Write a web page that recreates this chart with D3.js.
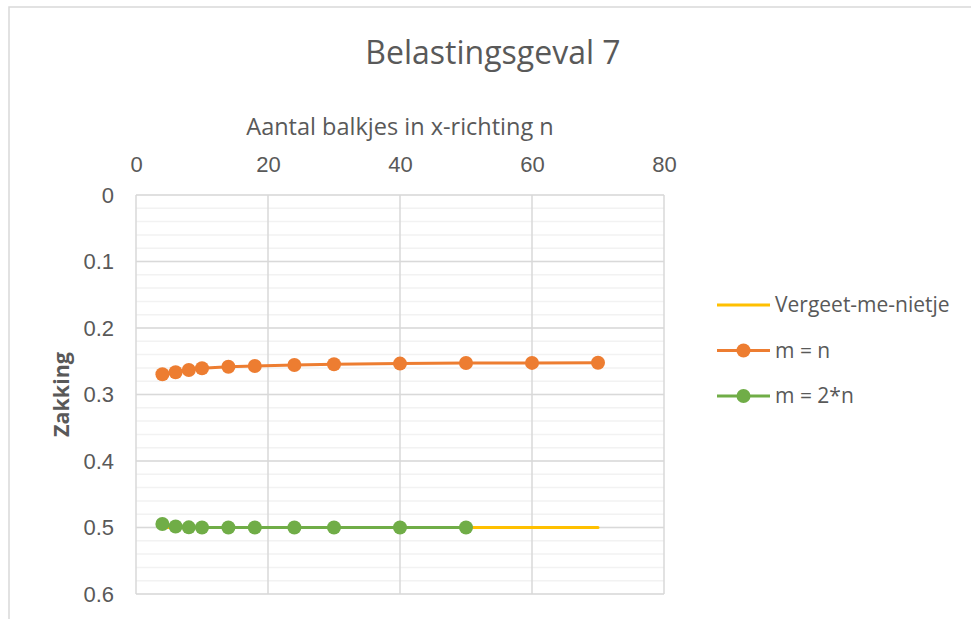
<!DOCTYPE html>
<html>
<head>
<meta charset="utf-8">
<script src="https://cdn.jsdelivr.net/npm/d3@7"></script>
<style>
  html, body { margin: 0; padding: 0; background: #fff; }
  svg { display: block; font-family: "Open Sans", "Noto Sans", "Liberation Sans", sans-serif; }
</style>
</head>
<body>
<svg id="chart" width="971" height="619"></svg>
<script>
// Number of beams in x-direction (n)
const nValues = [4, 6, 8, 10, 14, 18, 24, 30, 40, 50, 60, 70];
const nValuesDouble = [4, 6, 8, 10, 14, 18, 24, 30, 40, 50];

// Deflection per series
const vergeetMeNietje = [0.5, 0.5, 0.5, 0.5, 0.5, 0.5, 0.5, 0.5, 0.5, 0.5, 0.5, 0.5];
const mIsN = [0.2696, 0.2666, 0.2632, 0.2606, 0.2582, 0.2571, 0.2556, 0.2546, 0.2535, 0.2527, 0.2525, 0.2523];
const mIs2N = [0.4947, 0.4985, 0.4998, 0.5, 0.5, 0.5, 0.5, 0.5, 0.5, 0.5];

const xTicks = [0, 20, 40, 60, 80];
const yTicks = [0, 0.1, 0.2, 0.3, 0.4, 0.5, 0.6];
const yMinorTicks = d3.range(0, 0.6001, 0.02);

const series = [
  { name: "Vergeet-me-nietje", color: "#FFC000", xs: nValues, ys: vergeetMeNietje, markers: false },
  { name: "m = n", color: "#ED7D31", xs: nValues, ys: mIsN, markers: true },
  { name: "m = 2*n", color: "#70AD47", xs: nValuesDouble, ys: mIs2N, markers: true }
];

const svg = d3.select("#chart");
const W = 971, H = 619;
const plot = { left: 136, right: 664, top: 195, bottom: 594 };
const textColor = "#595959";
const gridMajor = "#d9d9d9";
const gridMinor = "#f2f2f2";

// Chart frame
svg.append("path")
  .attr("d", `M9,${H} V7 H${W}`)
  .attr("fill", "none")
  .attr("stroke", gridMajor)
  .attr("stroke-width", 1.5);

const x = d3.scaleLinear().domain([0, 80]).range([plot.left, plot.right]);
const y = d3.scaleLinear().domain([0, 0.6]).range([plot.top, plot.bottom]);

// Minor horizontal gridlines
svg.append("g")
  .selectAll("line")
  .data(yMinorTicks)
  .join("line")
  .attr("x1", plot.left).attr("x2", plot.right)
  .attr("y1", d => y(d)).attr("y2", d => y(d))
  .attr("stroke", gridMinor)
  .attr("stroke-width", 1.5);

// Major gridlines
svg.append("g")
  .selectAll("line")
  .data(yTicks)
  .join("line")
  .attr("x1", plot.left).attr("x2", plot.right)
  .attr("y1", d => y(d)).attr("y2", d => y(d))
  .attr("stroke", gridMajor)
  .attr("stroke-width", 1.5);

svg.append("g")
  .selectAll("line")
  .data(xTicks)
  .join("line")
  .attr("x1", d => x(d)).attr("x2", d => x(d))
  .attr("y1", plot.top).attr("y2", plot.bottom)
  .attr("stroke", gridMajor)
  .attr("stroke-width", 1.5);

// Top x axis
const xAxis = svg.append("g")
  .attr("transform", `translate(0,${plot.top - 20})`)
  .call(d3.axisTop(x).tickValues(xTicks).tickSize(0).tickFormat(d3.format("d")));
xAxis.select(".domain").remove();
xAxis.selectAll("text")
  .attr("fill", textColor)
  .attr("font-size", 22)
  .attr("font-family", null);

// Left y axis (inverted)
const yAxis = svg.append("g")
  .attr("transform", `translate(${plot.left - 19},0)`)
  .call(d3.axisLeft(y).tickValues(yTicks).tickSize(0).tickFormat(d => d === 0 ? "0" : d3.format(".1f")(d)));
yAxis.select(".domain").remove();
yAxis.selectAll("text")
  .attr("fill", textColor)
  .attr("font-size", 22)
  .attr("font-family", null);

// Series lines and markers
const line = d3.line().x(d => x(d[0])).y(d => y(d[1]));
series.forEach(s => {
  const pts = s.xs.map((v, i) => [v, s.ys[i]]);
  svg.append("path")
    .datum(pts)
    .attr("d", line)
    .attr("fill", "none")
    .attr("stroke", s.color)
    .attr("stroke-width", 3)
    .attr("stroke-linecap", "round");
  if (s.markers) {
    svg.append("g")
      .selectAll("circle")
      .data(pts)
      .join("circle")
      .attr("cx", d => x(d[0]))
      .attr("cy", d => y(d[1]))
      .attr("r", 7)
      .attr("fill", s.color);
  }
});

// Title
svg.append("text")
  .attr("x", 493).attr("y", 64)
  .attr("text-anchor", "middle")
  .attr("fill", textColor)
  .attr("font-size", 32)
  .text("Belastingsgeval 7");

// Axis titles
svg.append("text")
  .attr("x", (plot.left + plot.right) / 2).attr("y", 135)
  .attr("text-anchor", "middle")
  .attr("fill", textColor)
  .attr("font-size", 23.5)
  .text("Aantal balkjes in x-richting n");

svg.append("text")
  .attr("transform", `translate(69,${(plot.top + plot.bottom) / 2}) rotate(-90)`)
  .attr("text-anchor", "middle")
  .attr("fill", textColor)
  .attr("font-size", 21.5)
  .attr("font-weight", "bold")
  .text("Zakking");

// Legend
const legend = svg.append("g").attr("transform", "translate(717,305)");
series.forEach((s, i) => {
  const g = legend.append("g").attr("transform", `translate(0,${i * 45.5})`);
  g.append("line")
    .attr("x1", 0).attr("x2", 53)
    .attr("stroke", s.color)
    .attr("stroke-width", 3);
  if (s.markers) {
    g.append("circle").attr("cx", 26.5).attr("r", 7).attr("fill", s.color);
  }
  g.append("text")
    .attr("x", 58).attr("dy", "0.35em")
    .attr("fill", textColor)
    .attr("font-size", 21)
    .text(s.name);
});
</script>
</body>
</html>
